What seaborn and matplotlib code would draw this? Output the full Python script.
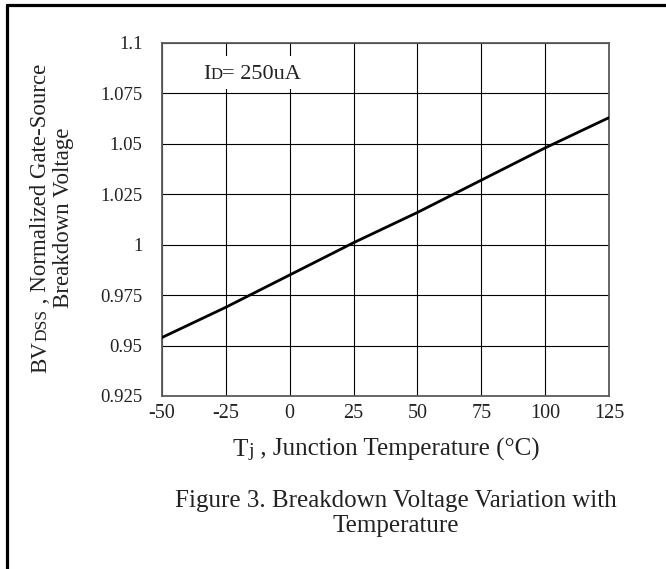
import matplotlib
matplotlib.use("Agg")
import matplotlib.pyplot as plt
from matplotlib.lines import Line2D
from matplotlib.patches import Rectangle
from matplotlib.transforms import IdentityTransform
import seaborn as sns
import pandas as pd

# Data
temps = [-50, -25, 0, 25, 50, 75, 100, 125]
bvdss = [0.954, 0.969, 0.985, 1.001, 1.016, 1.032, 1.048, 1.063]
x_ticks = [-50, -25, 0, 25, 50, 75, 100, 125]
y_ticks = [0.925, 0.95, 0.975, 1.0, 1.025, 1.05, 1.075, 1.1]
y_tick_labels = ["0.925", "0.95", "0.975", "1", "1.025", "1.05", "1.075", "1.1"]

df = pd.DataFrame({"Tj": temps, "BV": bvdss})

sns.set_theme(style="white")
plt.rcParams['font.family'] = ['Liberation Serif', 'DejaVu Serif']

W, H = 666, 569
fig = plt.figure(figsize=(W / 100, H / 100), dpi=100)
fig.patch.set_facecolor("white")
TXT = "#222222"

l, r, t, b = 162, 609, 43, 396
ax = fig.add_axes([l / W, 1 - b / H, (r - l) / W, (b - t) / H])

sns.lineplot(data=df, x="Tj", y="BV", ax=ax, color="black", linewidth=2.0, zorder=3)

ax.set_xlim(-50, 125)
ax.set_ylim(0.925, 1.1)
ax.set_xticks(x_ticks)
ax.set_xticklabels([str(v) for v in x_ticks])
ax.set_yticks(y_ticks)
ax.set_yticklabels(y_tick_labels)
ax.tick_params(axis="both", length=0, colors=TXT)
ax.tick_params(axis="x", pad=6, labelsize=14.5)
ax.tick_params(axis="y", pad=14, labelsize=13.5)
ax.grid(True, color="black", linewidth=0.8, zorder=1)
ax.set_axisbelow(True)
for s in ax.spines.values():
    s.set_color("#5a5a5a")
    s.set_linewidth(1.3)
ax.set_xlabel("")
ax.set_ylabel("")

renderer = fig.canvas.get_renderer()
ident = IdentityTransform()


def rich_text(pieces, x0, y0, vertical=False, center=False, zorder=3):
    """Draw text pieces of varying size on a common baseline (pixel coords, origin top-left)."""
    objs = []
    for s, size in pieces:
        tx = fig.text(0, 0, s, fontsize=size, color=TXT, transform=ident,
                      ha="left", va="baseline", rotation=90 if vertical else 0,
                      rotation_mode="anchor", zorder=zorder)
        objs.append(tx)
    lengths = []
    for tx in objs:
        ext = tx.get_window_extent(renderer)
        lengths.append(ext.height if vertical else ext.width)
    total = sum(lengths)
    pos = -total / 2 if center else 0.0
    for tx, ln in zip(objs, lengths):
        if vertical:
            tx.set_position((x0, (H - y0) + pos))
        else:
            tx.set_position((x0 + pos, H - y0))
        pos += ln
    return objs


# y label (two lines, rotated), with small-caps "DSS"
rich_text([("BV", 16.5), ("DSS", 12.5), (" , Normalized Gate-Source", 16.5)],
          46.5, 218, vertical=True, center=True)
rich_text([("Breakdown Voltage", 16.5)], 69.5, 218, vertical=True, center=True)

# x label
rich_text([("T", 18), ("j", 14), (" , Junction Temperature (°C)", 18)],
          386, 456, center=True)

# annotation with small-caps "D" on a white box that interrupts the grid
fig.add_artist(Rectangle((197, H - 89), 112, 33, transform=ident,
                         facecolor="white", edgecolor="none", zorder=2))
rich_text([("I", 16), ("D", 12), ("= 250uA", 16)], 203, 79, zorder=3)

fig.text(396 / W, 1 - 513.5 / H, "Figure 3. Breakdown Voltage Variation with\nTemperature",
         ha="center", va="center", fontsize=18, color=TXT, linespacing=1.18)

# outer border (left and top)
fig.add_artist(Line2D([6.5 / W, 6.5 / W], [0, 1 - 4.5 / H], transform=fig.transFigure,
                      color="black", linewidth=2.3))
fig.add_artist(Line2D([6.5 / W, 1], [1 - 4.5 / H, 1 - 4.5 / H], transform=fig.transFigure,
                      color="black", linewidth=2.3))

fig.savefig("out.png", dpi=100)
